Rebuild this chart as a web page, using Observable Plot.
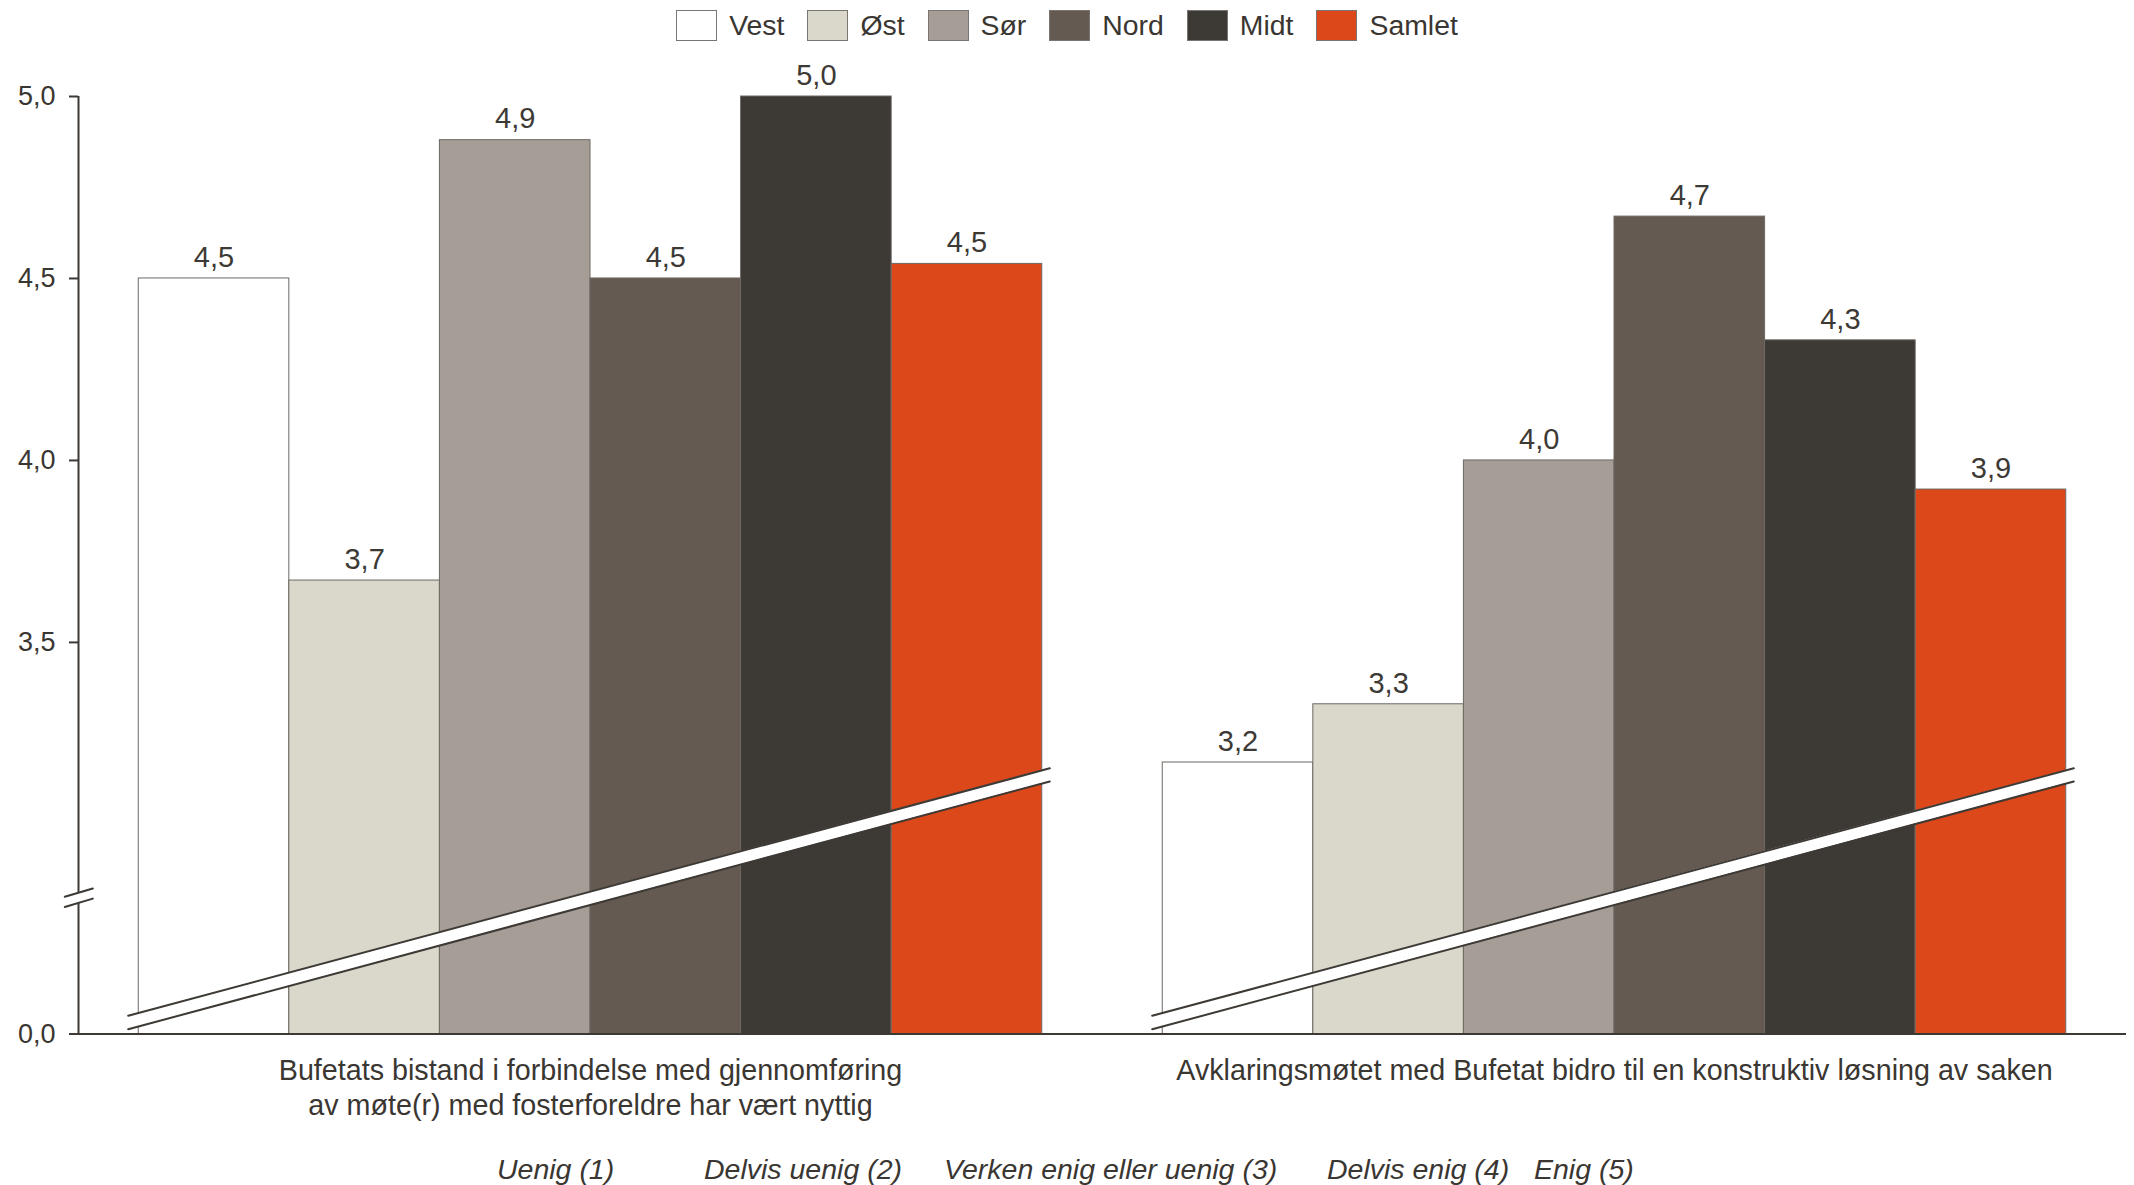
<!DOCTYPE html>
<html>
<head>
<meta charset="utf-8">
<script src="https://cdn.jsdelivr.net/npm/d3@7"></script>
<script src="https://cdn.jsdelivr.net/npm/@observablehq/plot@0.6"></script>
<style>
  body { margin: 0; background: #fff; font-family: 'Liberation Sans', Arial, sans-serif; color: #3a3632; }
  #wrap { position: relative; width: 2134px; height: 1185px; overflow: hidden; }
  #legend { position: absolute; top: 0; left: 0; width: 2134px; height: 50px; display: flex; justify-content: center; align-items: center; font-size: 28.4px; }
  .item { display: flex; align-items: center; margin: 0 11.5px; }
  .sw { width: 39px; height: 29px; border: 1px solid #7a7570; margin-right: 12px; box-sizing: content-box; }
  #chart { position: absolute; top: 52px; left: 0; }
  .cap { position: absolute; top: 1155px; font-style: italic; font-size: 28.5px; line-height: 28px; white-space: nowrap; }
</style>
</head>
<body>
<div id="wrap">
  <div id="legend"></div>
  <div id="chart"></div>
  <div id="caption"></div>
</div>
<script>
// ---- data ----
const questions = [
  "Bufetats bistand i forbindelse med gjennomføring\nav møte(r) med fosterforeldre har vært nyttig",
  "Avklaringsmøtet med Bufetat bidro til en konstruktiv løsning av saken"
];
const regions = ["Vest", "Øst", "Sør", "Nord", "Midt", "Samlet"];
const colors = ["#ffffff", "#dad8cb", "#a59d96", "#655a51", "#3d3935", "#dc4819"];
const valuesQ1 = [4.50, 3.67, 4.88, 4.50, 5.00, 4.54];
const valuesQ2 = [3.17, 3.33, 4.00, 4.67, 4.33, 3.92];
const yTickValues = [3.5, 4.0, 4.5, 5.0];
const yZeroLabel = "0,0";
const scaleLabels = ["Uenig (1)", "Delvis uenig (2)", "Verken enig eller uenig (3)", "Delvis enig (4)", "Enig (5)"];

// ---- layout (not data) ----
const captionLeft = [497, 704, 944, 1327, 1534];
const xDomain = [-0.4, 6.4];
// broken axis: the baseline (labelled 0,0) is drawn where the linear scale reaches yBase
const yBase = 2.424;
// axis-break decoration geometry (in linear scale units)
const breakBand = [{x: -0.07, lo: 2.437, hi: 2.474}, {x: 6.05, lo: 3.118, hi: 3.154}];
const axisBreak = [{x: -0.491, lo: 2.773, hi: 2.801}, {x: -0.305, lo: 2.796, hi: 2.824}];

const dark = "#3d3935";
const fmt = v => v.toFixed(1).replace(".", ",");
const allValues = [valuesQ1, valuesQ2];
const data = questions.flatMap((q, qi) =>
  regions.map((r, i) => ({question: q, region: r, i, value: allValues[qi][i]})));

// legend
const legend = document.getElementById("legend");
regions.forEach((r, i) => {
  const it = document.createElement("div");
  it.className = "item";
  const sw = document.createElement("div");
  sw.className = "sw";
  sw.style.background = colors[i];
  const t = document.createElement("span");
  t.textContent = r;
  it.appendChild(sw); it.appendChild(t);
  legend.appendChild(it);
});

// caption
const cap = document.getElementById("caption");
scaleLabels.forEach((s, i) => {
  const sp = document.createElement("span");
  sp.className = "cap";
  sp.style.left = captionLeft[i] + "px";
  sp.textContent = s;
  cap.appendChild(sp);
});

const plot = Plot.plot({
  width: 2134,
  height: 1068,
  marginTop: 44,
  marginBottom: 86.5,
  marginLeft: 78,
  marginRight: 8,
  style: {fontFamily: "'Liberation Sans', Arial, sans-serif", fontSize: "27px", color: "#3a3632", background: "white", overflow: "visible"},
  fx: {domain: questions, padding: 0},
  x: {domain: xDomain, axis: null},
  y: {domain: [yBase, 5]},
  color: {domain: regions, range: colors},
  marks: [
    Plot.rectY(data, {fx: "question", x1: "i", x2: d => d.i + 1, y1: () => yBase, y2: "value", fill: "region", stroke: "#6e6863", strokeWidth: 1}),
    Plot.areaY(breakBand, {x: "x", y1: "lo", y2: "hi", fill: "white"}),
    Plot.line(breakBand, {x: "x", y: "hi", stroke: dark, strokeWidth: 2}),
    Plot.line(breakBand, {x: "x", y: "lo", stroke: dark, strokeWidth: 2}),
    Plot.ruleY([yBase], {stroke: dark, strokeWidth: 2}),
    Plot.ruleX([xDomain[0]], {fx: () => questions[0], y1: () => yBase, y2: () => 5, stroke: dark, strokeWidth: 2}),
    Plot.areaY(axisBreak, {fx: () => questions[0], x: "x", y1: "lo", y2: "hi", fill: "white"}),
    Plot.line(axisBreak, {fx: () => questions[0], x: "x", y: "hi", stroke: dark, strokeWidth: 2}),
    Plot.line(axisBreak, {fx: () => questions[0], x: "x", y: "lo", stroke: dark, strokeWidth: 2}),
    Plot.axisY([yBase, ...yTickValues], {tickFormat: d => d === yBase ? yZeroLabel : fmt(d), tickSize: 9, tickPadding: 14, stroke: dark, strokeWidth: 2, fontSize: 27, label: null}),
    Plot.axisFx({anchor: "bottom", label: null, tickSize: 0, tickPadding: 21, lineAnchor: "top", fontSize: 28.7, lineHeight: 1.22}),
    Plot.text(data, {fx: "question", x: d => d.i + 0.5, y: "value", text: d => fmt(d.value), dy: -21, fontSize: 29, fill: dark})
  ]
});
document.getElementById("chart").appendChild(plot);
</script>
</body>
</html>
